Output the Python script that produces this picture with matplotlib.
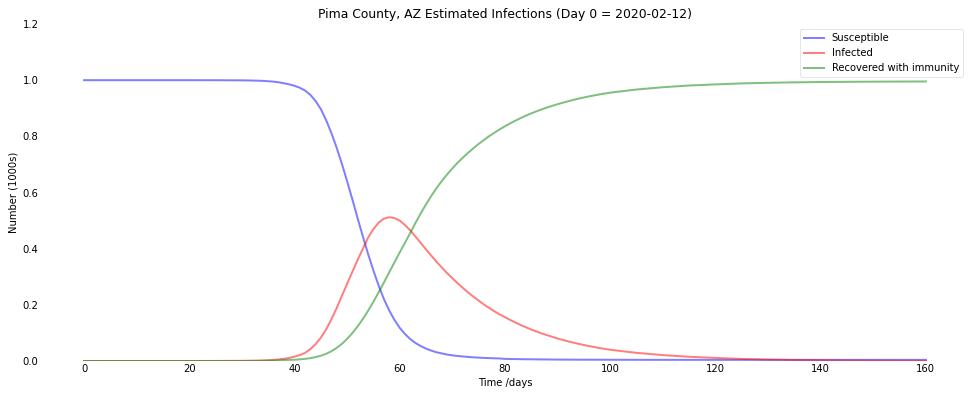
import numpy as np
import matplotlib
matplotlib.use("Agg")
import matplotlib.pyplot as plt

days = [0, 10, 20, 25, 30, 31, 32, 33, 34, 35, 36, 37, 38, 39, 40, 41, 42, 43, 44, 45,
        46, 47, 48, 49, 50, 51, 52, 53, 54, 55, 56, 57, 58, 59, 60, 61, 62, 63, 64, 65,
        66, 67, 68, 69, 70, 71, 72, 73, 74, 75, 76, 77, 78, 79, 80, 81, 82, 83, 84, 85,
        86, 87, 88, 89, 90, 92, 94, 96, 98, 100, 105, 110, 115, 120, 125, 130, 135, 140,
        145, 150, 155, 160]

susceptible = [1.0, 1.0, 1.0, 0.9999, 0.9994, 0.9991, 0.9987, 0.9982, 0.9974, 0.9963,
               0.9948, 0.9925, 0.989, 0.985, 0.980, 0.973, 0.963, 0.948, 0.926, 0.897,
               0.858, 0.812, 0.760, 0.702, 0.640, 0.575, 0.508, 0.443, 0.380, 0.322,
               0.268, 0.220, 0.180, 0.146, 0.118, 0.096, 0.078, 0.064, 0.053, 0.044,
               0.037, 0.031, 0.027, 0.023, 0.020, 0.018, 0.016, 0.0145, 0.013, 0.012,
               0.011, 0.0103, 0.0096, 0.009, 0.0075, 0.0071, 0.0068, 0.0065, 0.0062, 0.006,
               0.0058, 0.0056, 0.0054, 0.0052, 0.005, 0.0048, 0.0047, 0.0046, 0.0045, 0.0044,
               0.0042, 0.0041, 0.004, 0.004, 0.004, 0.004, 0.004, 0.004,
               0.004, 0.004, 0.004, 0.004]

infected = [0.0, 0.0, 0.0, 0.0001, 0.0005, 0.0007, 0.001, 0.0014, 0.002, 0.0028,
            0.004, 0.0055, 0.0078, 0.011, 0.0155, 0.021, 0.029, 0.042, 0.060, 0.083,
            0.112, 0.148, 0.188, 0.232, 0.275, 0.318, 0.360, 0.400, 0.440, 0.470,
            0.493, 0.507, 0.512, 0.509, 0.500, 0.484, 0.465, 0.443, 0.420, 0.397,
            0.375, 0.353, 0.333, 0.313, 0.295, 0.277, 0.260, 0.244, 0.229, 0.215,
            0.201, 0.189, 0.177, 0.166, 0.156, 0.146, 0.137, 0.128, 0.120, 0.112,
            0.105, 0.098, 0.092, 0.086, 0.080, 0.070, 0.061, 0.053, 0.046, 0.040,
            0.029, 0.021, 0.015, 0.011, 0.0075, 0.0053, 0.0037, 0.0026,
            0.0018, 0.0013, 0.0009, 0.0006]

recovered = [0.0, 0.0, 0.0, 0.0, 0.0001, 0.0002, 0.0003, 0.0004, 0.0006, 0.0009,
             0.0012, 0.002, 0.0032, 0.0040, 0.0045, 0.0058, 0.0076, 0.0101, 0.0137, 0.0187,
             0.0255, 0.0346, 0.0464, 0.0611, 0.0788, 0.0996, 0.1233, 0.1499, 0.1793, 0.2112,
             0.2449, 0.2799, 0.3156, 0.3514, 0.3869, 0.4214, 0.4560, 0.4920, 0.5260, 0.5580,
             0.5880, 0.6160, 0.6410, 0.6645, 0.6860, 0.7060, 0.7245, 0.7415, 0.7575, 0.7730,
             0.7870, 0.8005, 0.8130, 0.8250, 0.8360, 0.8463, 0.8560, 0.8652, 0.8738, 0.8818,
             0.8892, 0.8962, 0.9027, 0.9088, 0.9145, 0.9250, 0.9343, 0.9424, 0.9495, 0.9556,
             0.9668, 0.9749, 0.9810, 0.9850, 0.9885, 0.9907, 0.9923, 0.9934,
             0.9942, 0.9947, 0.9951, 0.9954]

fig = plt.figure(figsize=(974 / 72, 397 / 72), dpi=72, facecolor='w')
ax = fig.add_axes([0.0431, 0.0907, 0.9507, 0.8488])
ax.set_facecolor('w')
ax.plot(days, susceptible, 'b', alpha=0.5, lw=2, label='Susceptible')
ax.plot(days, infected, 'r', alpha=0.5, lw=2, label='Infected')
ax.plot(days, recovered, 'g', alpha=0.5, lw=2, label='Recovered with immunity')
ax.set_xlabel('Time /days')
ax.set_ylabel('Number (1000s)')
ax.set_ylim(0, 1.2)
ax.yaxis.set_tick_params(length=0)
ax.xaxis.set_tick_params(length=0)
ax.set_title('Pima County, AZ Estimated Infections (Day 0 = 2020-02-12)', fontsize=12.4)
legend = ax.legend()
legend.get_frame().set_alpha(0.5)
for spine in ('top', 'right', 'bottom', 'left'):
    ax.spines[spine].set_visible(False)

fig.savefig('out.png', dpi=72)
